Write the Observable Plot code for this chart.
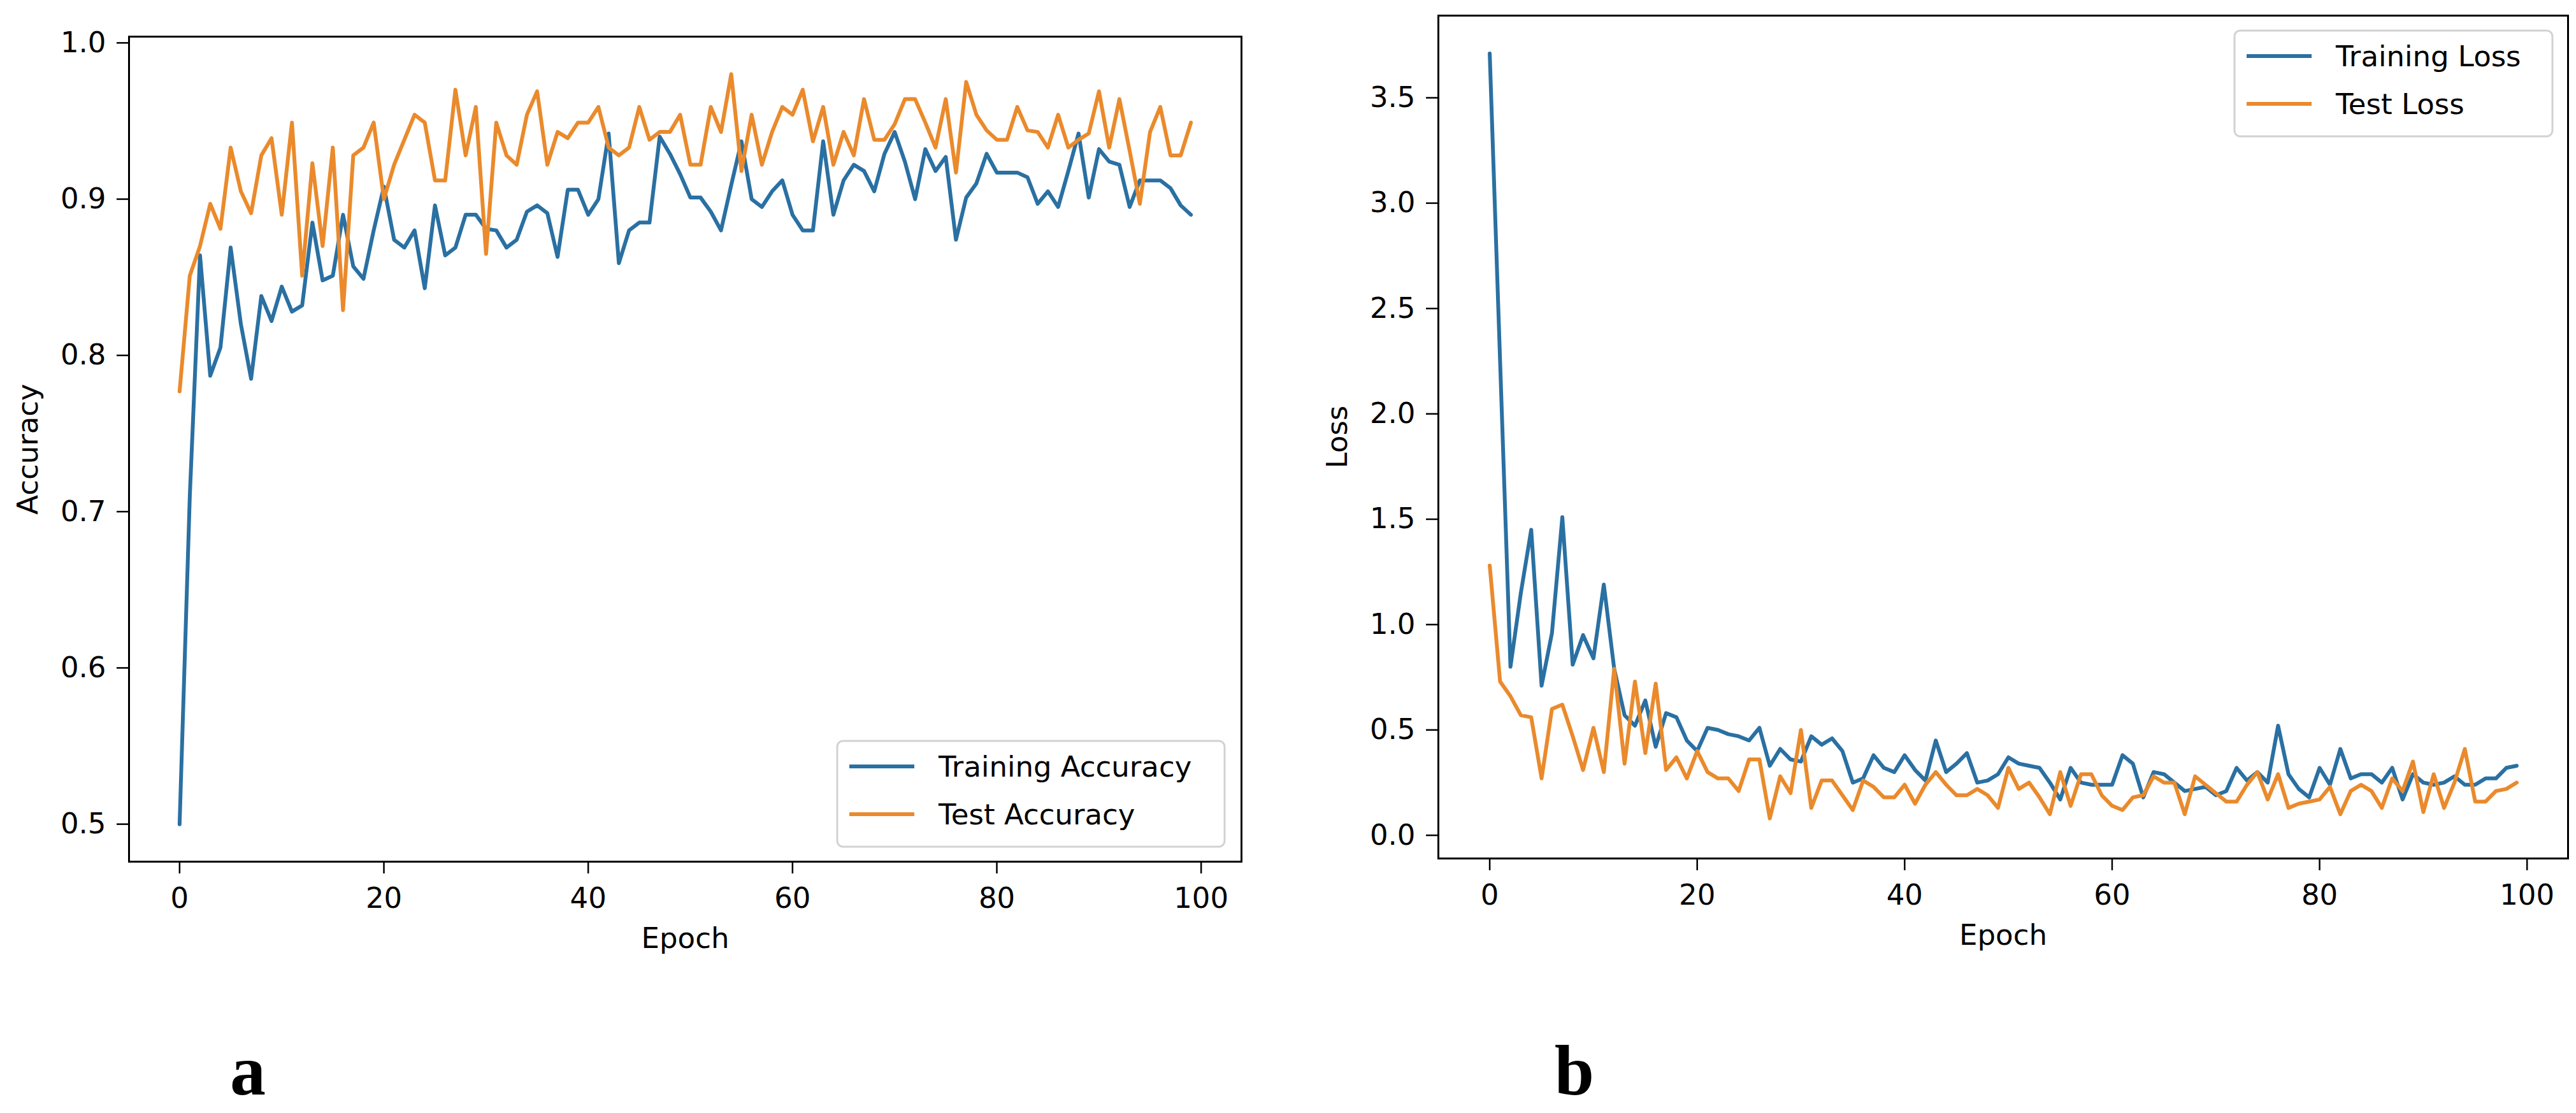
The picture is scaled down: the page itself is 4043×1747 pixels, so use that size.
<!DOCTYPE html>
<html>
<head>
<meta charset="utf-8">
<script src="https://cdn.jsdelivr.net/npm/d3@7"></script>
<script src="https://cdn.jsdelivr.net/npm/@observablehq/plot@0.6"></script>
<style>
  html, body { margin: 0; padding: 0; background: #fff; }
  #wrap { position: relative; width: 4043px; height: 1747px; background: #fff; overflow: hidden; }
  .panel { position: absolute; top: 0; }
  #overlay { position: absolute; left: 0; top: 0; }
</style>
</head>
<body>
<div id="wrap">
  <div id="left" class="panel" style="left:0px"></div>
  <div id="right" class="panel" style="left:2043px"></div>
</div>
<script>
// ---- data ----
const xTicks = [0, 20, 40, 60, 80, 100];
const accTicks = [0.5, 0.6, 0.7, 0.8, 0.9, 1.0];
const lossTicks = [0.0, 0.5, 1.0, 1.5, 2.0, 2.5, 3.0, 3.5];

const trainAcc = [
  0.500, 0.710, 0.864, 0.787, 0.805, 0.869, 0.820, 0.785, 0.838, 0.822,
  0.844, 0.828, 0.832, 0.885, 0.848, 0.851, 0.890, 0.857, 0.849, 0.880,
  0.908, 0.874, 0.869, 0.880, 0.843, 0.896, 0.864, 0.869, 0.890, 0.890,
  0.881, 0.880, 0.869, 0.874, 0.892, 0.896, 0.891, 0.863, 0.906, 0.906,
  0.890, 0.900, 0.942, 0.859, 0.880, 0.885, 0.885, 0.940, 0.929, 0.916,
  0.901, 0.901, 0.892, 0.880, 0.909, 0.937, 0.900, 0.895, 0.905, 0.912,
  0.890, 0.880, 0.880, 0.937, 0.890, 0.912, 0.922, 0.918, 0.905, 0.929,
  0.943, 0.924, 0.900, 0.932, 0.918, 0.927, 0.874, 0.901, 0.910, 0.929,
  0.917, 0.917, 0.917, 0.914, 0.897, 0.905, 0.895, 0.918, 0.942, 0.901,
  0.932, 0.924, 0.922, 0.895, 0.912, 0.912, 0.912, 0.907, 0.896, 0.890
];
const testAcc = [
  0.777, 0.851, 0.870, 0.897, 0.881, 0.933, 0.905, 0.891, 0.928, 0.939,
  0.890, 0.949, 0.851, 0.923, 0.870, 0.933, 0.829, 0.928, 0.933, 0.949,
  0.900, 0.922, 0.938, 0.954, 0.949, 0.912, 0.912, 0.970, 0.928, 0.959,
  0.865, 0.949, 0.928, 0.922, 0.954, 0.969, 0.922, 0.943, 0.939, 0.949,
  0.949, 0.959, 0.933, 0.928, 0.933, 0.959, 0.938, 0.943, 0.943, 0.954,
  0.922, 0.922, 0.959, 0.943, 0.980, 0.918, 0.954, 0.922, 0.943, 0.959,
  0.954, 0.970, 0.937, 0.959, 0.922, 0.943, 0.928, 0.964, 0.938, 0.938,
  0.948, 0.964, 0.964, 0.949, 0.933, 0.964, 0.917, 0.975, 0.954, 0.944,
  0.938, 0.938, 0.959, 0.944, 0.943, 0.933, 0.954, 0.933, 0.938, 0.942,
  0.969, 0.933, 0.964, 0.931, 0.897, 0.943, 0.959, 0.928, 0.928, 0.949
];
const trainLoss = [
  3.71, 2.25, 0.80, 1.15, 1.45, 0.71, 0.96, 1.51, 0.81, 0.95,
  0.84, 1.19, 0.79, 0.57, 0.52, 0.64, 0.42, 0.58, 0.56, 0.45,
  0.40, 0.51, 0.50, 0.48, 0.47, 0.45, 0.51, 0.33, 0.41, 0.36,
  0.35, 0.47, 0.43, 0.46, 0.40, 0.25, 0.27, 0.38, 0.32, 0.30,
  0.38, 0.31, 0.26, 0.45, 0.30, 0.34, 0.39, 0.25, 0.26, 0.29,
  0.37, 0.34, 0.33, 0.32, 0.25, 0.17, 0.32, 0.25, 0.24, 0.24,
  0.24, 0.38, 0.34, 0.18, 0.30, 0.29, 0.25, 0.21, 0.22, 0.23,
  0.19, 0.21, 0.32, 0.26, 0.30, 0.25, 0.52, 0.29, 0.22, 0.18,
  0.32, 0.24, 0.41, 0.27, 0.29, 0.29, 0.25, 0.32, 0.17, 0.29,
  0.25, 0.24, 0.25, 0.28, 0.24, 0.24, 0.27, 0.27, 0.32, 0.33
];
const testLoss = [
  1.28, 0.73, 0.66, 0.57, 0.56, 0.27, 0.60, 0.62, 0.47, 0.31,
  0.51, 0.30, 0.79, 0.34, 0.73, 0.39, 0.72, 0.31, 0.37, 0.27,
  0.40, 0.30, 0.27, 0.27, 0.21, 0.36, 0.36, 0.08, 0.28, 0.20,
  0.50, 0.13, 0.26, 0.26, 0.19, 0.12, 0.26, 0.23, 0.18, 0.18,
  0.24, 0.15, 0.24, 0.30, 0.24, 0.19, 0.19, 0.22, 0.19, 0.13,
  0.32, 0.22, 0.25, 0.18, 0.10, 0.30, 0.14, 0.29, 0.29, 0.19,
  0.14, 0.12, 0.18, 0.19, 0.28, 0.25, 0.25, 0.10, 0.28, 0.24,
  0.20, 0.16, 0.16, 0.24, 0.30, 0.17, 0.29, 0.13, 0.15, 0.16,
  0.17, 0.23, 0.10, 0.21, 0.24, 0.21, 0.13, 0.27, 0.21, 0.35,
  0.11, 0.29, 0.13, 0.25, 0.41, 0.16, 0.16, 0.21, 0.22, 0.25
];

const accSeries = ["Training Accuracy", "Test Accuracy"];
const lossSeries = ["Training Loss", "Test Loss"];
const colors = ["#2a70a2", "#ea8a2c"];

// ---- drawing ----
const FONT = "DejaVu Sans";
const FS = 45;
const LW = 6;
const fmt1 = d3.format(".1f");

function panel({values, yDomain, yTicks, yLabel, margins}) {
  const [mt, mr, mb, ml] = margins;
  return Plot.plot({
    width: 2000,
    height: 1560,
    marginTop: mt, marginRight: mr, marginBottom: mb, marginLeft: ml,
    style: {fontFamily: FONT, fontSize: FS + "px", color: "black", background: "white", overflow: "visible"},
    x: {domain: [-4.95, 103.95]},
    y: {domain: yDomain},
    marks: [
      Plot.line(values[0], {x: (d, i) => i, y: d => d, stroke: colors[0], strokeWidth: LW, strokeLinejoin: "round"}),
      Plot.line(values[1], {x: (d, i) => i, y: d => d, stroke: colors[1], strokeWidth: LW, strokeLinejoin: "round"}),
      Plot.frame({stroke: "black", strokeWidth: 3}),
      Plot.axisX({ticks: xTicks, tickFormat: d => String(d), tickSize: 19, tickPadding: 22, strokeWidth: 2.5, fontSize: FS, label: null}),
      Plot.axisY({ticks: yTicks, tickFormat: fmt1, tickSize: 19, tickPadding: 17, strokeWidth: 2.5, fontSize: FS, label: null}),
      Plot.text(["Epoch"], {frameAnchor: "bottom", dy: 121, fontSize: FS, fill: "black", lineAnchor: "middle"}),
      Plot.text([yLabel], {frameAnchor: "left", dx: -158, rotate: -90, fontSize: FS, fill: "black", lineAnchor: "middle", textAnchor: "middle"})
    ]
  });
}

document.getElementById("left").appendChild(panel({
  values: [trainAcc, testAcc],
  yDomain: [0.476, 1.004],
  yTicks: accTicks,
  yLabel: "Accuracy",
  margins: [57, 52, 208, 202]
}));

document.getElementById("right").appendChild(panel({
  values: [trainLoss, testLoss],
  yDomain: [-0.11, 3.89],
  yTicks: lossTicks,
  yLabel: "Loss",
  margins: [24, 13, 213, 214]
}));

// ---- legends and panel letters (overlay) ----
const NS = "http://www.w3.org/2000/svg";
const ov = document.createElementNS(NS, "svg");
ov.setAttribute("id", "overlay");
ov.setAttribute("width", 4043);
ov.setAttribute("height", 1747);
document.getElementById("wrap").appendChild(ov);

function el(tag, attrs, text) {
  const e = document.createElementNS(NS, tag);
  for (const k in attrs) e.setAttribute(k, attrs[k]);
  if (text != null) e.textContent = text;
  ov.appendChild(e);
  return e;
}

function legend(x, y, w, names) {
  el("rect", {x, y, width: w, height: 166, rx: 9, ry: 9, fill: "white", "fill-opacity": 0.85, stroke: "#d2d2d2", "stroke-width": 3});
  names.forEach((n, i) => {
    const cy = y + 40 + i * 75;
    el("line", {x1: x + 19, x2: x + 121, y1: cy, y2: cy, stroke: colors[i], "stroke-width": LW});
    el("text", {x: x + 159, y: cy, "font-family": FONT, "font-size": FS, fill: "black", "dominant-baseline": "central"}, n);
  });
}
legend(1314, 1163, 608, accSeries);
legend(3507, 48, 499, lossSeries);

el("text", {x: 389, y: 1718, "text-anchor": "middle", "font-family": "Liberation Serif", "font-weight": "bold", "font-size": 112, fill: "black"}, "a");
el("text", {x: 2471, y: 1718, "text-anchor": "middle", "font-family": "Liberation Serif", "font-weight": "bold", "font-size": 112, fill: "black"}, "b");
</script>
</body>
</html>
